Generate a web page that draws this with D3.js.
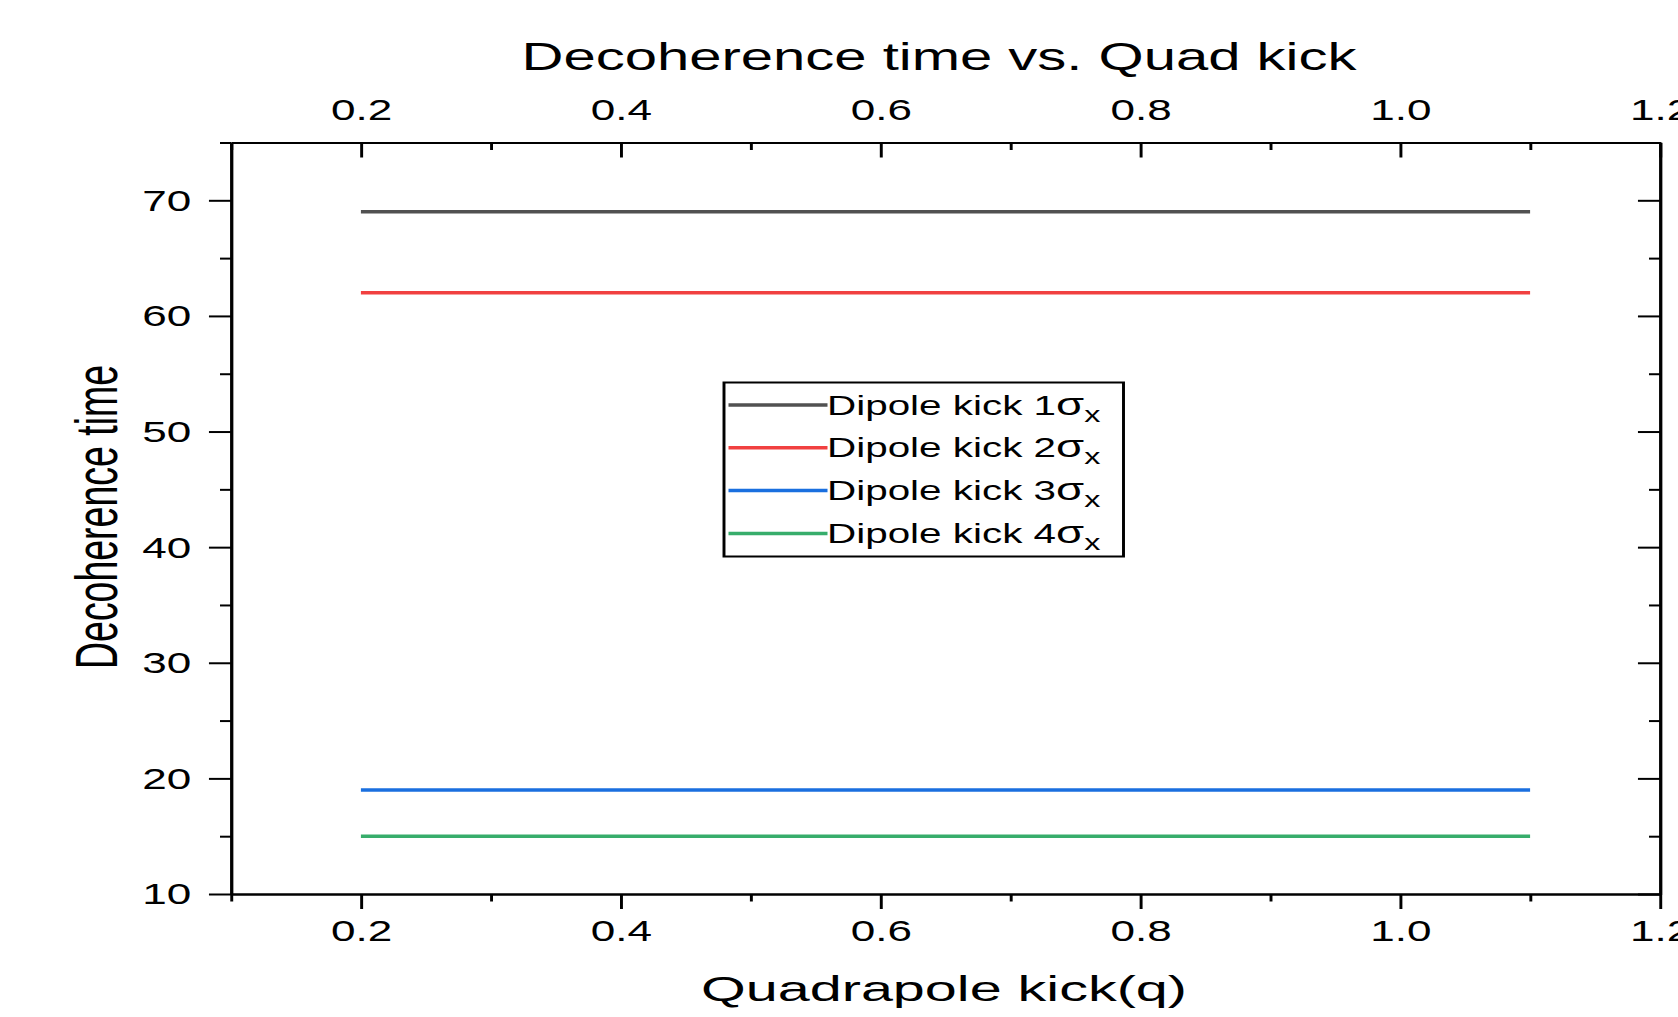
<!DOCTYPE html>
<html>
<head>
<meta charset="utf-8">
<script src="https://cdn.jsdelivr.net/npm/d3@7"></script>
<style>
  body { margin: 0; background: #fff; }
  svg { display: block; font-family: "Liberation Sans", Arial, sans-serif; }
</style>
</head>
<body>
<svg id="chart"></svg>
<script>
// data
const quadKick = [0.2, 0.3, 0.4, 0.5, 0.6, 0.7, 0.8, 0.9, 1.0, 1.1];
const kick1 = [69, 69, 69, 69, 69, 69, 69, 69, 69, 69];
const kick2 = [62, 62, 62, 62, 62, 62, 62, 62, 62, 62];
const kick3 = [19, 19, 19, 19, 19, 19, 19, 19, 19, 19];
const kick4 = [15, 15, 15, 15, 15, 15, 15, 15, 15, 15];
const seriesNames = ["1", "2", "3", "4"];
const seriesColors = ["#515151", "#F14040", "#1A6FDF", "#37AD6B"];

const xMajor = [0.2, 0.4, 0.6, 0.8, 1.0, 1.2];
const xMinor = [0.1, 0.3, 0.5, 0.7, 0.9, 1.1];
const yMajor = [10, 20, 30, 40, 50, 60, 70];
const yMinor = [15, 25, 35, 45, 55, 65, 75];

const width = 1678;
const height = 1017;
// the original figure is stretched sideways, so everything is drawn
// in a local frame and widened by SX
const SX = 1.47;
const plotLeft = 231 / SX, plotRight = 1660 / SX, plotTop = 142.5, plotBottom = 894;

const svg = d3.select("#chart").attr("width", width).attr("height", height);
const g = svg.append("g").attr("transform", `scale(${SX},1)`);

const x = d3.scaleLinear().domain([0.1, 1.2]).range([plotLeft, plotRight]);
const y = d3.scaleLinear().domain([10, 75]).range([plotBottom, plotTop]);

const fmtX = d3.format(".1f");

function styleAxis(sel, fs) {
  sel.select(".domain").attr("stroke", "#000").attr("stroke-width", 2);
  sel.selectAll(".tick line").attr("stroke", "#000").attr("stroke-width", 2);
  sel.selectAll(".tick text").attr("fill", "#000").style("font-size", fs + "px")
    .style("font-family", '"Liberation Sans", Arial, sans-serif');
}

// bottom axis
g.append("g").attr("transform", `translate(0,${plotBottom})`)
  .call(d3.axisBottom(x).tickValues(xMinor).tickSize(7.5).tickSizeOuter(0).tickFormat(""))
  .call(s => styleAxis(s, 30));
g.append("g").attr("transform", `translate(0,${plotBottom})`)
  .call(d3.axisBottom(x).tickValues(xMajor).tickSize(15).tickSizeOuter(0).tickPadding(11).tickFormat(fmtX))
  .call(s => styleAxis(s, 30));

// top axis (ticks point down into the frame)
g.append("g").attr("transform", `translate(0,${plotTop})`)
  .call(d3.axisTop(x).tickValues(xMinor).tickSizeInner(-7.5).tickSizeOuter(0).tickFormat(""))
  .call(s => styleAxis(s, 30));
g.append("g").attr("transform", `translate(0,${plotTop})`)
  .call(d3.axisTop(x).tickValues(xMajor).tickSizeInner(-15).tickSizeOuter(0).tickPadding(23).tickFormat(fmtX))
  .call(s => styleAxis(s, 30));

// left axis
g.append("g").attr("transform", `translate(${plotLeft},0)`)
  .call(d3.axisLeft(y).tickValues(yMinor).tickSize(7.5).tickSizeOuter(0).tickFormat(""))
  .call(s => styleAxis(s, 30));
g.append("g").attr("transform", `translate(${plotLeft},0)`)
  .call(d3.axisLeft(y).tickValues(yMajor).tickSize(15).tickSizeOuter(0).tickPadding(12))
  .call(s => styleAxis(s, 30))
  .call(s => s.selectAll(".tick text").attr("dy", "0.33em"));

// right axis (ticks point left into the frame)
g.append("g").attr("transform", `translate(${plotRight},0)`)
  .call(d3.axisRight(y).tickValues(yMinor).tickSizeInner(-7.5).tickSizeOuter(0).tickFormat(""))
  .call(s => styleAxis(s, 30));
g.append("g").attr("transform", `translate(${plotRight},0)`)
  .call(d3.axisRight(y).tickValues(yMajor).tickSizeInner(-15).tickSizeOuter(0).tickFormat(""))
  .call(s => styleAxis(s, 30));

// series
const series = [kick1, kick2, kick3, kick4];
const line = d3.line().x((d, i) => x(quadKick[i])).y(d => y(d));

g.append("g")
  .selectAll("path")
  .data(series)
  .join("path")
  .attr("d", d => line(d))
  .attr("fill", "none")
  .attr("stroke", (d, i) => seriesColors[i])
  .attr("stroke-width", 3.5);

// titles
g.append("text")
  .attr("x", 939 / SX).attr("y", 70)
  .attr("text-anchor", "middle")
  .attr("textLength", 835 / SX).attr("lengthAdjust", "spacingAndGlyphs")
  .style("font-size", "38px")
  .text("Decoherence time vs. Quad kick");

g.append("text")
  .attr("x", 944 / SX).attr("y", 1001.5)
  .attr("text-anchor", "middle")
  .attr("textLength", 486 / SX).attr("lengthAdjust", "spacingAndGlyphs")
  .style("font-size", "35px")
  .text("Quadrapole kick(q)");

g.append("text")
  .attr("transform", `translate(${117.3 / SX},517) rotate(-90)`)
  .attr("text-anchor", "middle")
  .attr("textLength", 304).attr("lengthAdjust", "spacingAndGlyphs")
  .style("font-size", "40px")
  .text("Decoherence time");

// legend
const legX = 724 / SX, legY = 382.5, legW = (1123.5 - 724) / SX, legH = 174;
const rowY0 = 405, rowStep = 42.8;
const legend = g.append("g");
legend.append("rect")
  .attr("x", legX).attr("y", legY).attr("width", legW).attr("height", legH)
  .attr("fill", "#fff").attr("stroke", "#000").attr("stroke-width", 2);

const rows = legend.selectAll("g.row")
  .data(seriesNames)
  .join("g")
  .attr("class", "row")
  .attr("transform", (d, i) => `translate(0,${rowY0 + i * rowStep})`);

rows.append("line")
  .attr("x1", 728.5 / SX).attr("x2", 827.5 / SX)
  .attr("y1", 0).attr("y2", 0)
  .attr("stroke", (d, i) => seriesColors[i])
  .attr("stroke-width", 3.5);

const lt = rows.append("text")
  .attr("x", 827 / SX).attr("y", 9.5)
  .style("font-size", "27.5px");
lt.append("tspan").text(d => "Dipole kick " + d);
lt.append("tspan").style("font-size", "31px").text("σ");
lt.append("tspan").attr("dy", 7).style("font-size", "22px").text("x");
</script>
</body>
</html>
